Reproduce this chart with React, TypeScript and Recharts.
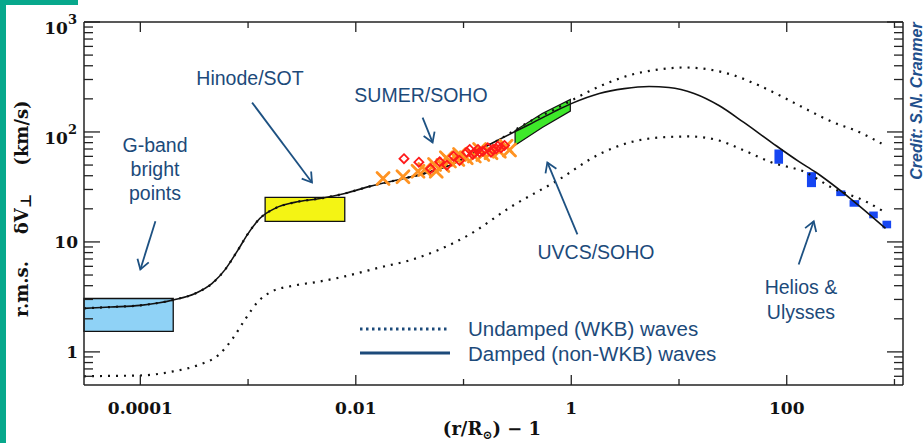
import { ComposedChart, Line, Area, Scatter, XAxis, YAxis, ReferenceArea, ReferenceLine } from 'recharts';

const W = 924;
const H = 443;
const INK = '#1c4a7a';

// x = (r/Rsun) - 1, y = rms transverse velocity (km/s)
const damped = [
  { x: 3e-5, y: 2.49 }, { x: 5.3e-5, y: 2.56 }, { x: 1e-4, y: 2.65 }, { x: 2.02e-4, y: 2.97 },
  { x: 3.23e-4, y: 3.4 }, { x: 4.64e-4, y: 4.2 }, { x: 6.12e-4, y: 5.6 }, { x: 7.91e-4, y: 8.2 },
  { x: 1e-3, y: 11.9 }, { x: 1.29e-3, y: 16.4 }, { x: 1.78e-3, y: 20.2 }, { x: 2.7e-3, y: 22.9 },
  { x: 4.64e-3, y: 24.8 }, { x: 7.9e-3, y: 27.6 }, { x: 0.0135, y: 32 }, { x: 0.0255, y: 37 },
  { x: 0.0436, y: 42 }, { x: 0.0741, y: 49.6 }, { x: 0.126, y: 65 }, { x: 0.215, y: 85.5 },
  { x: 0.408, y: 117 }, { x: 0.697, y: 153 }, { x: 1.0, y: 181 }, { x: 1.82, y: 224 },
  { x: 3.1, y: 248 }, { x: 5.27, y: 259 }, { x: 8.07, y: 254 }, { x: 13.8, y: 224 },
  { x: 23.5, y: 174 }, { x: 40, y: 122 }, { x: 72.6, y: 80 }, { x: 129, y: 54 },
  { x: 186, y: 43 }, { x: 400, y: 24.3 }, { x: 826, y: 13.3 },
];

const undampedHigh = [
  { x: 3e-5, y: 2.49 }, { x: 5.3e-5, y: 2.56 }, { x: 1e-4, y: 2.65 }, { x: 2.02e-4, y: 2.97 },
  { x: 3.23e-4, y: 3.4 }, { x: 4.64e-4, y: 4.2 }, { x: 6.12e-4, y: 5.6 }, { x: 7.91e-4, y: 8.2 },
  { x: 1e-3, y: 11.9 }, { x: 1.29e-3, y: 16.4 }, { x: 1.78e-3, y: 20.2 }, { x: 2.7e-3, y: 22.9 },
  { x: 4.64e-3, y: 24.8 }, { x: 7.9e-3, y: 27.6 }, { x: 0.0135, y: 32 }, { x: 0.0255, y: 37 },
  { x: 0.0436, y: 42 }, { x: 0.0741, y: 49.6 }, { x: 0.126, y: 65 }, { x: 0.215, y: 85.5 },
  { x: 0.408, y: 124 }, { x: 0.697, y: 160 }, { x: 1.0, y: 193 }, { x: 1.82, y: 259 },
  { x: 3.44, y: 327 }, { x: 6.53, y: 370 }, { x: 11.1, y: 386 }, { x: 19, y: 370 },
  { x: 32.3, y: 327 }, { x: 55.1, y: 265 }, { x: 93.8, y: 206 }, { x: 160, y: 157 },
  { x: 272, y: 122 }, { x: 436, y: 103 }, { x: 758, y: 78.5 },
];

const undampedLow = [
  { x: 3e-5, y: 0.6 }, { x: 5.3e-5, y: 0.605 }, { x: 1e-4, y: 0.61 }, { x: 2.02e-4, y: 0.665 },
  { x: 3.6e-4, y: 0.77 }, { x: 5.27e-4, y: 0.93 }, { x: 7.11e-4, y: 1.3 }, { x: 9.38e-4, y: 1.97 },
  { x: 1.24e-3, y: 2.88 }, { x: 1.67e-3, y: 3.55 }, { x: 2.72e-3, y: 4.02 }, { x: 4.64e-3, y: 4.37 },
  { x: 7.9e-3, y: 4.86 }, { x: 0.0167, y: 5.86 }, { x: 0.0316, y: 6.8 }, { x: 0.06, y: 8.55 },
  { x: 0.114, y: 11.7 }, { x: 0.27, y: 20.6 }, { x: 0.77, y: 37 }, { x: 1.8, y: 62.4 },
  { x: 3.44, y: 80 }, { x: 6.53, y: 89 }, { x: 12.4, y: 91 }, { x: 23.5, y: 83.7 },
  { x: 38.3, y: 69.3 }, { x: 72.6, y: 52.8 }, { x: 150, y: 42.9 }, { x: 261, y: 31.3 },
  { x: 538, y: 23.4 }, { x: 826, y: 18.5 },
];

// observational constraints
const gBandBox = { x1: 3e-5, x2: 2.02e-4, y1: 1.54, y2: 3.06 };
const hinodeBox = { x1: 1.44e-3, x2: 7.9e-3, y1: 15.4, y2: 25.4 };

const uvcsBand = [
  { x: 0.301, lo: 75.9, hi: 103 },
  { x: 0.538, lo: 110, hi: 147 },
  { x: 0.98, lo: 155, hi: 197 },
];

const sumerCrosses = [
  { x: 0.0179, y: 37.8 }, { x: 0.0274, y: 39.2 }, { x: 0.0378, y: 44 }, { x: 0.0436, y: 45.6 },
  { x: 0.0538, y: 50.7 }, { x: 0.0558, y: 44 }, { x: 0.0643, y: 49.6 }, { x: 0.0692, y: 58.2 },
  { x: 0.0741, y: 54.3 }, { x: 0.0885, y: 56.2 }, { x: 0.0918, y: 62.4 }, { x: 0.106, y: 58.2 },
  { x: 0.126, y: 60.3 }, { x: 0.141, y: 69.3 }, { x: 0.151, y: 62.4 }, { x: 0.18, y: 64.7 },
  { x: 0.215, y: 66.9 }, { x: 0.248, y: 74.3 }, { x: 0.267, y: 68.4 },
];

const sumerDiamonds = [
  { x: 0.028, y: 57.1 }, { x: 0.0385, y: 53.1 }, { x: 0.0494, y: 46.3 }, { x: 0.06, y: 53.6 },
  { x: 0.07, y: 49.9 }, { x: 0.0807, y: 60.3 }, { x: 0.0918, y: 55.1 }, { x: 0.107, y: 65.5 },
  { x: 0.114, y: 69.3 }, { x: 0.122, y: 62.4 }, { x: 0.126, y: 64.7 }, { x: 0.136, y: 69.3 },
  { x: 0.141, y: 65.5 }, { x: 0.151, y: 66.9 }, { x: 0.168, y: 71.8 }, { x: 0.18, y: 65.5 },
  { x: 0.187, y: 69.3 }, { x: 0.201, y: 70.3 }, { x: 0.208, y: 74.3 }, { x: 0.223, y: 71.8 },
  { x: 0.24, y: 75.4 },
];

const heliosBoxes = [
  { x1: 76.9, x2: 92.4, y1: 51.4, y2: 69.3 },
  { x1: 154, x2: 187, y1: 31.5, y2: 43.1 },
  { x1: 288, x2: 350, y1: 26.1, y2: 29.4 },
  { x1: 383, x2: 471, y1: 20.9, y2: 24 },
  { x1: 583, x2: 700, y1: 16.4, y2: 18.9 },
  { x1: 774, x2: 931, y1: 13.3, y2: 15.6 },
];

// annotation arrows, tail -> head in data units
const arrows = [
  [{ x: 1.38e-4, y: 15.4 }, { x: 1e-4, y: 5.62 }],
  [{ x: 1.09e-3, y: 185 }, { x: 3.92e-3, y: 34.7 }],
  [{ x: 0.0417, y: 135 }, { x: 0.0516, y: 80.3 }],
  [{ x: 1.14, y: 11.7 }, { x: 0.6, y: 52.8 }],
  [{ x: 129, y: 6.24 }, { x: 178, y: 15.4 }],
];

const xDomain = [3e-5, 1200];
const yDomain = [0.5, 1000];
const xTicks = [1e-4, 1e-3, 1e-2, 1e-1, 1, 10, 100, 1000];
const xLabelValues = [1e-4, 1e-2, 1, 100];
const xLabelText = ['0.0001', '0.01', '1', '100'];
const yTicks = [
  0.6, 0.7, 0.8, 0.9, 1, 2, 3, 4, 5, 6, 7, 8, 9, 10, 20, 30, 40, 50, 60, 70, 80, 90,
  100, 200, 300, 400, 500, 600, 700, 800, 900, 1000,
];
const yLabelValues = [1, 10, 100, 1000];
const yLabelBase = ['1', '10', '10', '10'];
const yLabelExp = ['', '', '2', '3'];

const serif = '"DejaVu Serif", serif';
const sans = '"Liberation Sans", Arial, sans-serif';
const AXIS = '#222';

const BottomTick = ({ x, y, payload }: any) => {
  const i = xLabelValues.indexOf(payload.value);
  return (
    <g>
      <line x1={x} y1={y} x2={x} y2={y - (i >= 0 ? 10 : 6)} stroke={AXIS} strokeWidth={1.3} />
      {i >= 0 && (
        <text x={x} y={y + 29} textAnchor="middle" fontFamily={serif} fontWeight={700} fontSize={17} fill="#111">
          {xLabelText[i]}
        </text>
      )}
    </g>
  );
};

const TopTick = ({ x, y, payload }: any) => {
  const major = xLabelValues.indexOf(payload.value) >= 0;
  return <line x1={x} y1={y} x2={x} y2={y + (major ? 10 : 6)} stroke={AXIS} strokeWidth={1.3} />;
};

const LeftTick = ({ x, y, payload }: any) => {
  const i = yLabelValues.indexOf(payload.value);
  const major = i >= 0;
  return (
    <g>
      <line x1={x} y1={y} x2={x + (major ? 16 : 9)} y2={y} stroke={AXIS} strokeWidth={1.3} />
      {major && yLabelExp[i] === '' && (
        <text x={x - 6} y={y + 6} textAnchor="end" fontFamily={serif} fontWeight={700} fontSize={17} fill="#111">
          {yLabelBase[i]}
        </text>
      )}
      {major && yLabelExp[i] !== '' && (
        <text x={x - 7} y={y + 12} textAnchor="end" fontFamily={serif} fontWeight={700} fontSize={17} fill="#111">
          {yLabelBase[i]}
          <tspan dy={-10} fontSize={13}>{yLabelExp[i]}</tspan>
        </text>
      )}
    </g>
  );
};

const RightTick = ({ x, y, payload }: any) => {
  const major = yLabelValues.indexOf(payload.value) >= 0;
  return <line x1={x} y1={y} x2={x - (major ? 16 : 9)} y2={y} stroke={AXIS} strokeWidth={1.3} />;
};

const cross = (props: any) => {
  const { cx, cy } = props;
  const r = 6;
  return (
    <g stroke="#ff9322" strokeWidth={2.8} strokeLinecap="round">
      <line x1={cx - r} y1={cy - r} x2={cx + r} y2={cy + r} />
      <line x1={cx - r} y1={cy + r} x2={cx + r} y2={cy - r} />
    </g>
  );
};

const diamond = (props: any) => {
  const { cx, cy } = props;
  const r = 4.5;
  return (
    <polygon
      points={`${cx},${cy - r} ${cx + r},${cy} ${cx},${cy + r} ${cx - r},${cy}`}
      fill="none"
      stroke="#ff1a1a"
      strokeWidth={1.8}
    />
  );
};

const arrowShape = (p: any) => {
  const { x1, y1, x2, y2 } = p;
  if ([x1, y1, x2, y2].some((v) => typeof v !== 'number')) return <g />;
  const a = Math.atan2(y2 - y1, x2 - x1);
  const h = 11;
  const w1 = a + Math.PI * 0.82;
  const w2 = a - Math.PI * 0.82;
  return (
    <g stroke="#1d5182" strokeWidth={1.8} fill="none">
      <line x1={x1} y1={y1} x2={x2} y2={y2} />
      <polyline
        points={`${x2 + h * Math.cos(w1)},${y2 + h * Math.sin(w1)} ${x2},${y2} ${x2 + h * Math.cos(w2)},${y2 + h * Math.sin(w2)}`}
        strokeLinejoin="miter"
      />
    </g>
  );
};

const uvcsOutline = [
  ...uvcsBand.map((d) => ({ x: d.x, y: d.lo })),
  ...uvcsBand.slice().reverse().map((d) => ({ x: d.x, y: d.hi })),
  { x: uvcsBand[0].x, y: uvcsBand[0].lo },
];

export default function App() {
  return (
    <div style={{ position: 'absolute', left: 0, top: 0, width: W, height: H, background: '#fff', overflow: 'hidden' }}>
      {/* teal frame */}
      <div style={{ position: 'absolute', left: 0, top: 0, width: 6, height: H, background: '#07a88c' }} />
      <div style={{ position: 'absolute', left: 0, top: 0, width: 78, height: 5, background: '#07a88c' }} />

      <ComposedChart width={W} height={H} margin={{ top: 21, right: 20, bottom: 57, left: 83 }}>
        <XAxis
          dataKey="x" type="number" scale="log" domain={xDomain} allowDataOverflow
          ticks={xTicks} interval={0} tickSize={0} tickMargin={0} height={1}
          tick={BottomTick} axisLine={{ stroke: AXIS, strokeWidth: 1.5 }} tickLine={false}
        />
        <XAxis
          xAxisId="top" orientation="top" dataKey="x" type="number" scale="log" domain={xDomain} allowDataOverflow
          ticks={xTicks} interval={0} tickSize={0} tickMargin={0} height={1}
          tick={TopTick} axisLine={{ stroke: AXIS, strokeWidth: 1.5 }} tickLine={false}
        />
        <YAxis
          dataKey="y" type="number" scale="log" domain={yDomain} allowDataOverflow
          ticks={yTicks} interval={0} tickSize={0} tickMargin={0} width={1}
          tick={LeftTick} axisLine={{ stroke: AXIS, strokeWidth: 1.5 }} tickLine={false}
        />
        <YAxis
          yAxisId="right" orientation="right" type="number" scale="log" domain={yDomain} allowDataOverflow
          ticks={yTicks} interval={0} tickSize={0} tickMargin={0} width={1}
          tick={RightTick} axisLine={{ stroke: AXIS, strokeWidth: 1.5 }} tickLine={false}
        />

        <ReferenceArea {...gBandBox} fill="#8fd2f6" fillOpacity={1} stroke="#111" strokeWidth={1.3} ifOverflow="visible" />
        <ReferenceArea {...hinodeBox} fill="#f4f414" fillOpacity={1} stroke="#111" strokeWidth={1.3} ifOverflow="visible" />
        {heliosBoxes.map((b, i) => (
          <ReferenceArea key={i} {...b} fill="#1646f2" fillOpacity={1} stroke="none" ifOverflow="visible" />
        ))}

        <Area
          data={uvcsBand} dataKey={(d: any) => [d.lo, d.hi]} type="linear"
          fill="#3ee82a" fillOpacity={1} stroke="none" isAnimationActive={false} activeDot={false}
        />

        <Scatter data={sumerCrosses} dataKey="y" shape={cross} isAnimationActive={false} />
        <Scatter data={sumerDiamonds} dataKey="y" shape={diamond} isAnimationActive={false} />

        <Line
          data={uvcsOutline} dataKey="y" type="linear" stroke="#111" strokeWidth={1.2}
          dot={false} activeDot={false} isAnimationActive={false}
        />
        <Line
          data={undampedLow} dataKey="y" type="monotone" stroke="#111" strokeWidth={2.2}
          strokeDasharray="2 6" dot={false} activeDot={false} isAnimationActive={false}
        />
        <Line
          data={undampedHigh} dataKey="y" type="monotone" stroke="#111" strokeWidth={2.2}
          strokeDasharray="2 6" dot={false} activeDot={false} isAnimationActive={false}
        />
        <Line
          data={damped} dataKey="y" type="monotone" stroke="#111" strokeWidth={1.6}
          dot={false} activeDot={false} isAnimationActive={false}
        />

        {arrows.map((seg, i) => (
          <ReferenceLine key={`a${i}`} segment={seg} shape={arrowShape} ifOverflow="visible" />
        ))}
      </ComposedChart>

      <svg width={W} height={H} style={{ position: 'absolute', left: 0, top: 0, pointerEvents: 'none' }}>
        {/* axis titles */}
        <g fontFamily={serif} fontWeight={700} fontSize={18} fill="#111">
          <text transform="translate(21,289) rotate(-90)" textAnchor="middle" dominantBaseline="central">r.m.s.</text>
          <text transform="translate(21,214) rotate(-90)" textAnchor="middle" dominantBaseline="central">
            δV<tspan dy={5} fontSize={15}>⊥</tspan>
          </text>
          <text transform="translate(21,133) rotate(-90)" textAnchor="middle" dominantBaseline="central">(km/s)</text>
          <text x={492} y={435} textAnchor="middle">
            (r/R<tspan dy={4} fontSize={12}>⊙</tspan><tspan dy={-4}>)  −  1</tspan>
          </text>
        </g>

        {/* annotations */}
        <g fontFamily={sans} fontSize={19.5} fill={INK} textAnchor="middle" dominantBaseline="central">
          <text x={250} y={78}>Hinode/SOT</text>
          <text x={421} y={95}>SUMER/SOHO</text>
          <text x={155} y={145}>G-band</text>
          <text x={155} y={169}>bright</text>
          <text x={155} y={193}>points</text>
          <text x={596} y={252}>UVCS/SOHO</text>
          <text x={801} y={287}>Helios &amp;</text>
          <text x={801} y={312}>Ulysses</text>
        </g>

        {/* legend */}
        <line x1={360} y1={329} x2={450} y2={329} stroke={INK} strokeWidth={3} strokeDasharray="2.5 3.5" />
        <line x1={360} y1={353} x2={450} y2={353} stroke={INK} strokeWidth={3} />
        <g fontFamily={sans} fontSize={20.5} fill={INK} dominantBaseline="central">
          <text x={468} y={328}>Undamped (WKB) waves</text>
          <text x={468} y={353}>Damped (non-WKB) waves</text>
        </g>

        <text
          transform="translate(916,101) rotate(-90)" textAnchor="middle" dominantBaseline="central"
          fontFamily={sans} fontWeight={700} fontStyle="italic" fontSize={16} fill="#1f4f8c"
        >
          Credit: S.N. Cranmer
        </text>
      </svg>
    </div>
  );
}
